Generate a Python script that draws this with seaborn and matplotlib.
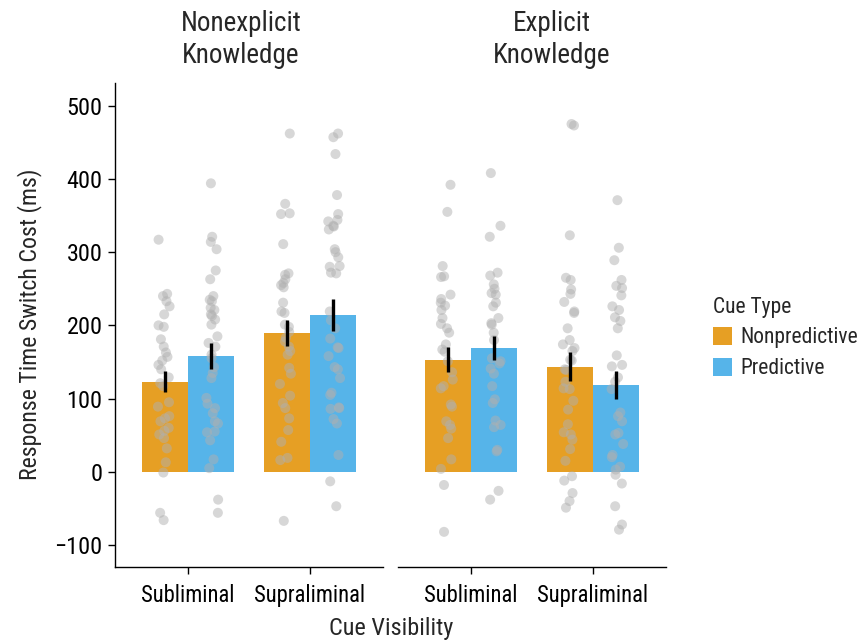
import numpy as np
import pandas as pd
import matplotlib
matplotlib.use("Agg")
import matplotlib.pyplot as plt
from matplotlib import font_manager
from matplotlib.patches import Patch
import seaborn as sns

# factor levels
knowledge = ["Nonexplicit", "Explicit"]
knowledge_titles = ["Nonexplicit\nKnowledge", "Explicit\nKnowledge"]
visibility = ["Subliminal", "Supraliminal"]
cue_types = ["Nonpredictive", "Predictive"]

# individual switch costs (ms)
ne_sub_np = [317, 243, 240, 233, 226, 215, 198, 200, 181, 171, 163, 157, 152, 146, 140, 129,
             121, 117, 95, 89, 73, 76, 69, 56, 60, 51, 46, 32, 13, -1, -56, -66]
ne_sub_p = [394, 321, 314, 304, 275, 263, 240, 235, 233, 224, 221, 215, 213, 208, 201, 185,
            176, 171, 160, 155, 143, 135, 128, 101, 93, 87, 80, 69, 66, 55, 54, 43, 17, 5, -38, -56]
ne_sup_np = [462, 366, 353, 352, 311, 269, 271, 263, 255, 252, 258, 231, 219, 217, 201, 198,
             191, 183, 178, 171, 165, 160, 142, 134, 120, 104, 94, 87, 73, 57, 41, 19, 16, -67]
ne_sup_p = [462, 457, 434, 378, 352, 344, 342, 336, 335, 331, 304, 300, 293, 281, 280, 272,
            271, 219, 207, 196, 182, 170, 169, 158, 143, 140, 128, 108, 105, 88, 87, 86, 72, 66,
            23, -13, -47]
ex_sub_np = [392, 355, 281, 266, 267, 242, 236, 231, 227, 221, 210, 202, 196, 190, 174, 167,
             164, 151, 136, 126, 117, 114, 92, 89, 69, 64, 59, 46, 17, 4, -18, -82]
ex_sub_p = [408, 336, 321, 272, 268, 256, 250, 244, 242, 231, 226, 210, 203, 201, 190, 180,
            155, 151, 148, 141, 134, 117, 99, 94, 70, 64, 61, 30, 28, -26, -38]
ex_sup_np = [475, 473, 323, 265, 262, 249, 243, 232, 219, 217, 196, 180, 174, 169, 165, 153,
             152, 140, 139, 123, 113, 114, 97, 85, 65, 54, 51, 44, 31, 15, -6, -12, -29, -40, -49]
ex_sup_p = [371, 306, 289, 262, 254, 251, 241, 226, 221, 211, 206, 196, 159, 146, 144, 129,
            123, 113, 81, 76, 69, 53, 51, 38, 23, 20, 7, 3, -4, -16, -47, -72, -79]

# bar means and standard errors, same order as the point lists
mean_cost = [123, 158, 190, 214, 153, 169, 143.5, 119]
se_cost = [14.5, 17.5, 18, 21.5, 17, 16, 20, 19]

groups = [ne_sub_np, ne_sub_p, ne_sup_np, ne_sup_p, ex_sub_np, ex_sub_p, ex_sup_np, ex_sup_p]

rows, summ = [], []
i = 0
for k in knowledge:
    for v in visibility:
        for c in cue_types:
            for val in groups[i]:
                rows.append({"Knowledge": k, "Cue Visibility": v, "Cue Type": c, "cost": val})
            summ.append({"Knowledge": k, "Cue Visibility": v, "Cue Type": c,
                         "mean": mean_cost[i], "se": se_cost[i]})
            i += 1
raw = pd.DataFrame(rows)
summary = pd.DataFrame(summ)

# condensed sans close to the original Helvetica Condensed look
installed = {f.name for f in font_manager.fontManager.ttflist}
family = "Liberation Sans"
for cand in ["Roboto Condensed", "Archivo Narrow", "PT Sans Narrow", "Fira Sans Condensed"]:
    if cand in installed:
        family = cand
        break

sns.set_style("ticks")
plt.rcParams["font.family"] = [family, "DejaVu Sans"]

colors = {"Nonpredictive": "#E69F24", "Predictive": "#56B4E9"}
greys = {"Nonpredictive": "#B0B0B0", "Predictive": "#B0B0B0"}

fig = plt.figure(figsize=(8.61, 6.43), dpi=100)
ax1 = fig.add_axes([0.1336, 0.1182, 0.3112, 0.7527])
ax2 = fig.add_axes([0.4623, 0.1182, 0.3112, 0.7527])

np.random.seed(7)
for ax, k in zip([ax1, ax2], knowledge):
    s = summary[summary["Knowledge"] == k]
    sns.barplot(data=s, x="Cue Visibility", y="mean", hue="Cue Type", order=visibility,
                hue_order=cue_types, palette=colors, width=0.75, saturation=1,
                errorbar=None, legend=False, ax=ax, zorder=1, linewidth=0)
    se_lookup = dict(zip(s["mean"], s["se"]))
    for p in ax.patches:
        h = p.get_height()
        cx = p.get_x() + p.get_width() / 2
        ax.errorbar(cx, h, yerr=se_lookup[h], color="black", lw=2.4, capsize=0, zorder=4)
    sns.stripplot(data=raw[raw["Knowledge"] == k], x="Cue Visibility", y="cost",
                  hue="Cue Type", order=visibility, hue_order=cue_types, palette=greys,
                  dodge=True, jitter=True, size=7.2, alpha=0.5, linewidth=0,
                  legend=False, ax=ax, zorder=3)
    ax.set_xlim(-0.6, 1.6)
    ax.set_ylim(-130, 531)
    ax.set_xlabel("")
    ax.set_ylabel("")
    ax.tick_params(axis="x", labelsize=16.3, length=5, width=1, colors="black", pad=7)
    ax.tick_params(axis="y", labelsize=17.5, length=5, width=1, colors="black", pad=4)
    for sp in ["top", "right"]:
        ax.spines[sp].set_visible(False)
    for sp in ["left", "bottom"]:
        ax.spines[sp].set_linewidth(1.0)
        ax.spines[sp].set_color("black")

ax1.set_yticks([-100, 0, 100, 200, 300, 400, 500])
ax2.spines["left"].set_visible(False)
ax2.set_yticks([])

fig.text(241 / 861, 1 - 10 / 643, knowledge_titles[0], ha="center", va="top",
         fontsize=19.5, linespacing=1.22)
fig.text(552 / 861, 1 - 10 / 643, knowledge_titles[1], ha="center", va="top",
         fontsize=19.5, linespacing=1.22)
fig.text(391 / 861, 1 - 628 / 643, "Cue Visibility", ha="center", va="center", fontsize=17.5)
fig.text(30 / 861, 1 - 324 / 643, "Response Time Switch Cost (ms)", ha="center",
         va="center", rotation=90, fontsize=17.2)

handles = [Patch(facecolor=colors[c], edgecolor="none", label=c) for c in cue_types]
fig.legend(handles=handles, title="Cue Type", loc="center left",
           bbox_to_anchor=(709 / 861, 1 - 338 / 643), frameon=False, fontsize=15.5,
           title_fontsize=15.5, handlelength=0.88, handleheight=0.88, handletextpad=0.4,
           labelspacing=0.45, alignment="left", borderaxespad=0, borderpad=0.2)

fig.savefig("out.png", dpi=100)
